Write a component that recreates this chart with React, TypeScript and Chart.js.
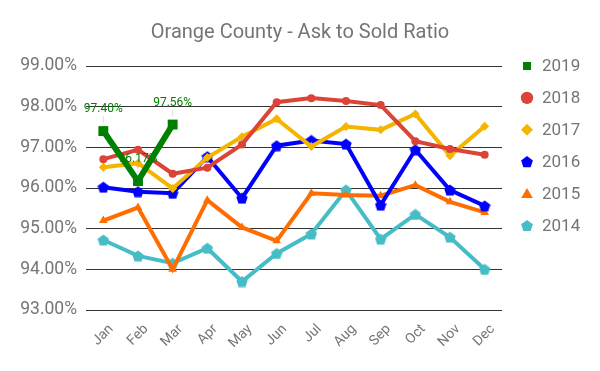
import React, { useEffect, useRef } from "react";
import { Chart, registerables } from "chart.js";

Chart.register(...registerables);

const months = ["Jan", "Feb", "Mar", "Apr", "May", "Jun", "Jul", "Aug", "Sep", "Oct", "Nov", "Dec"];
const yearLabels = ["2019", "2018", "2017", "2016", "2015", "2014"];
const v2019 = [97.4, 96.17, 97.56, null, null, null, null, null, null, null, null, null];
const v2018 = [96.71, 96.94, 96.35, 96.5, 97.07, 98.11, 98.21, 98.14, 98.04, 97.15, 96.96, 96.82];
const v2017 = [96.51, 96.61, 95.99, 96.75, 97.26, 97.7, 97.02, 97.51, 97.43, 97.82, 96.79, 97.52];
const v2016 = [96.02, 95.91, 95.87, 96.77, 95.75, 97.04, 97.17, 97.08, 95.58, 96.94, 95.95, 95.56];
const v2015 = [95.2, 95.52, 94.0, 95.7, 95.03, 94.7, 95.87, 95.83, 95.81, 96.07, 95.66, 95.4];
const v2014 = [94.72, 94.33, 94.15, 94.52, 93.7, 94.39, 94.87, 95.95, 94.74, 95.35, 94.79, 94.0];
const yTicks = [93, 94, 95, 96, 97, 98, 99];
const colors = ["#008000", "#db4437", "#f4b400", "#0000ff", "#ff6d00", "#46bdc6"];
const shapes = ["square", "circle", "diamond", "pentagon", "triangle", "pentagon"];

const GRAY = "#757575";
const FONT = "Roboto";

function shapePath(ctx: CanvasRenderingContext2D, shape: string, x: number, y: number) {
  ctx.beginPath();
  if (shape === "square") {
    ctx.rect(x - 4, y - 4, 8, 8);
  } else if (shape === "circle") {
    ctx.arc(x, y, 6.2, 0, Math.PI * 2);
  } else if (shape === "diamond") {
    ctx.moveTo(x, y - 6);
    ctx.lineTo(x + 6, y);
    ctx.lineTo(x, y + 6);
    ctx.lineTo(x - 6, y);
    ctx.closePath();
  } else if (shape === "triangle") {
    ctx.moveTo(x, y - 5.5);
    ctx.lineTo(x + 5.8, y + 4.5);
    ctx.lineTo(x - 5.8, y + 4.5);
    ctx.closePath();
  } else {
    const r = 6.2;
    for (let i = 0; i < 5; i++) {
      const a = -Math.PI / 2 + (i * 2 * Math.PI) / 5;
      const px = x + r * Math.cos(a);
      const py = y + 0.6 + r * Math.sin(a);
      if (i === 0) ctx.moveTo(px, py);
      else ctx.lineTo(px, py);
    }
    ctx.closePath();
  }
}

function pentagon(color: string, size: number): HTMLCanvasElement {
  const c = document.createElement("canvas");
  c.width = size;
  c.height = size;
  const ctx = c.getContext("2d")!;
  ctx.fillStyle = color;
  const r = size / 2;
  ctx.beginPath();
  for (let i = 0; i < 5; i++) {
    const a = -Math.PI / 2 + (i * 2 * Math.PI) / 5;
    const px = r + r * Math.cos(a);
    const py = r + 0.6 + r * Math.sin(a);
    if (i === 0) ctx.moveTo(px, py);
    else ctx.lineTo(px, py);
  }
  ctx.closePath();
  ctx.fill();
  return c;
}

const overlayPlugin = {
  id: "overlay",
  afterDatasetsDraw(chart: any) {
    const ctx = chart.ctx;
    const meta = chart.getDatasetMeta(0);
    ctx.save();
    ctx.font = `12px ${FONT}`;
    ctx.textAlign = "center";
    ctx.textBaseline = "middle";
    meta.data.forEach((pt: any, i: number) => {
      const v = v2019[i];
      if (v == null) return;
      ctx.strokeStyle = "rgba(210,210,210,0.7)";
      ctx.lineWidth = 1;
      ctx.beginPath();
      ctx.moveTo(pt.x, pt.y - 15);
      ctx.lineTo(pt.x, pt.y - 8);
      ctx.stroke();
      ctx.fillStyle = "#008000";
      ctx.fillText(v.toFixed(2) + "%", pt.x, pt.y - 22);
    });
    ctx.restore();
  },
  afterDraw(chart: any) {
    const ctx = chart.ctx;
    ctx.save();
    // title
    ctx.fillStyle = GRAY;
    ctx.font = `20px ${FONT}`;
    ctx.textAlign = "center";
    ctx.textBaseline = "alphabetic";
    ctx.fillText("Orange County - Ask to Sold Ratio", 300, 37.5);
    // rotated category labels
    const xs = chart.scales.x;
    ctx.font = `14px ${FONT}`;
    ctx.textAlign = "right";
    ctx.textBaseline = "middle";
    months.forEach((m, i) => {
      const px = xs.getPixelForTick(i);
      ctx.save();
      ctx.translate(px + 8, chart.chartArea.bottom + 17);
      ctx.rotate(-Math.PI / 4);
      ctx.fillText(m, 0, 0);
      ctx.restore();
    });
    // legend
    ctx.font = `17px ${FONT}`;
    ctx.textAlign = "left";
    ctx.textBaseline = "middle";
    yearLabels.forEach((lab, i) => {
      const y = 66 + i * 31.9;
      ctx.fillStyle = colors[i];
      shapePath(ctx, shapes[i], 527, y);
      ctx.fill();
      ctx.fillStyle = GRAY;
      ctx.fillText(lab, 542, y + 1);
    });
    ctx.restore();
  },
};

export default function App() {
  const ref = useRef<HTMLCanvasElement>(null);
  useEffect(() => {
    const pentBlue = pentagon("#0000ff", 12);
    const pentTeal = pentagon("#46bdc6", 12);
    const ds = (i: number, data: any[], style: any, radius: number, width: number) => ({
      label: yearLabels[i],
      data,
      borderColor: colors[i],
      backgroundColor: colors[i],
      pointBackgroundColor: colors[i],
      pointBorderColor: colors[i],
      pointStyle: style,
      pointRadius: radius,
      pointHoverRadius: radius,
      pointBorderWidth: 0,
      borderWidth: width,
      tension: 0,
      spanGaps: false,
    });
    const chart = new Chart(ref.current!, {
      type: "line",
      data: {
        labels: months,
        datasets: [
          ds(0, v2019, "rect", 7, 6),
          ds(1, v2018, "circle", 4, 4),
          ds(2, v2017, "rectRot", 4.5, 4),
          ds(3, v2016, pentBlue, 5, 4),
          ds(4, v2015, "triangle", 5, 4),
          ds(5, v2014, pentTeal, 5, 4),
        ] as any,
      },
      options: {
        animation: false,
        responsive: false,
        layout: { padding: { left: 0, right: 98, top: 66, bottom: 0 } },
        plugins: {
          title: { display: false },
          legend: { display: false },
          tooltip: { enabled: false },
        },
        scales: {
          x: {
            offset: true,
            grid: { display: false, drawTicks: false },
            border: { display: false },
            afterFit: (s: any) => {
              s.height = 61;
            },
            ticks: { display: false, autoSkip: false },
          },
          y: {
            min: 93,
            max: 99,
            afterBuildTicks: (axis: any) => {
              axis.ticks = yTicks.map((v) => ({ value: v }));
            },
            afterFit: (s: any) => {
              s.width = 86;
            },
            grid: { color: "#333333", drawTicks: false, lineWidth: 1 },
            border: { display: false },
            ticks: {
              color: GRAY,
              font: { family: FONT, size: 17.5 },
              padding: 9,
              callback: (v: any) => Number(v).toFixed(2) + "%",
            },
          },
        },
      },
      plugins: [overlayPlugin],
    });
    return () => chart.destroy();
  }, []);
  return (
    <div style={{ position: "absolute", left: 0, top: 0, width: 600, height: 371, background: "#fff" }}>
      <canvas ref={ref} width={600} height={371} />
    </div>
  );
}
